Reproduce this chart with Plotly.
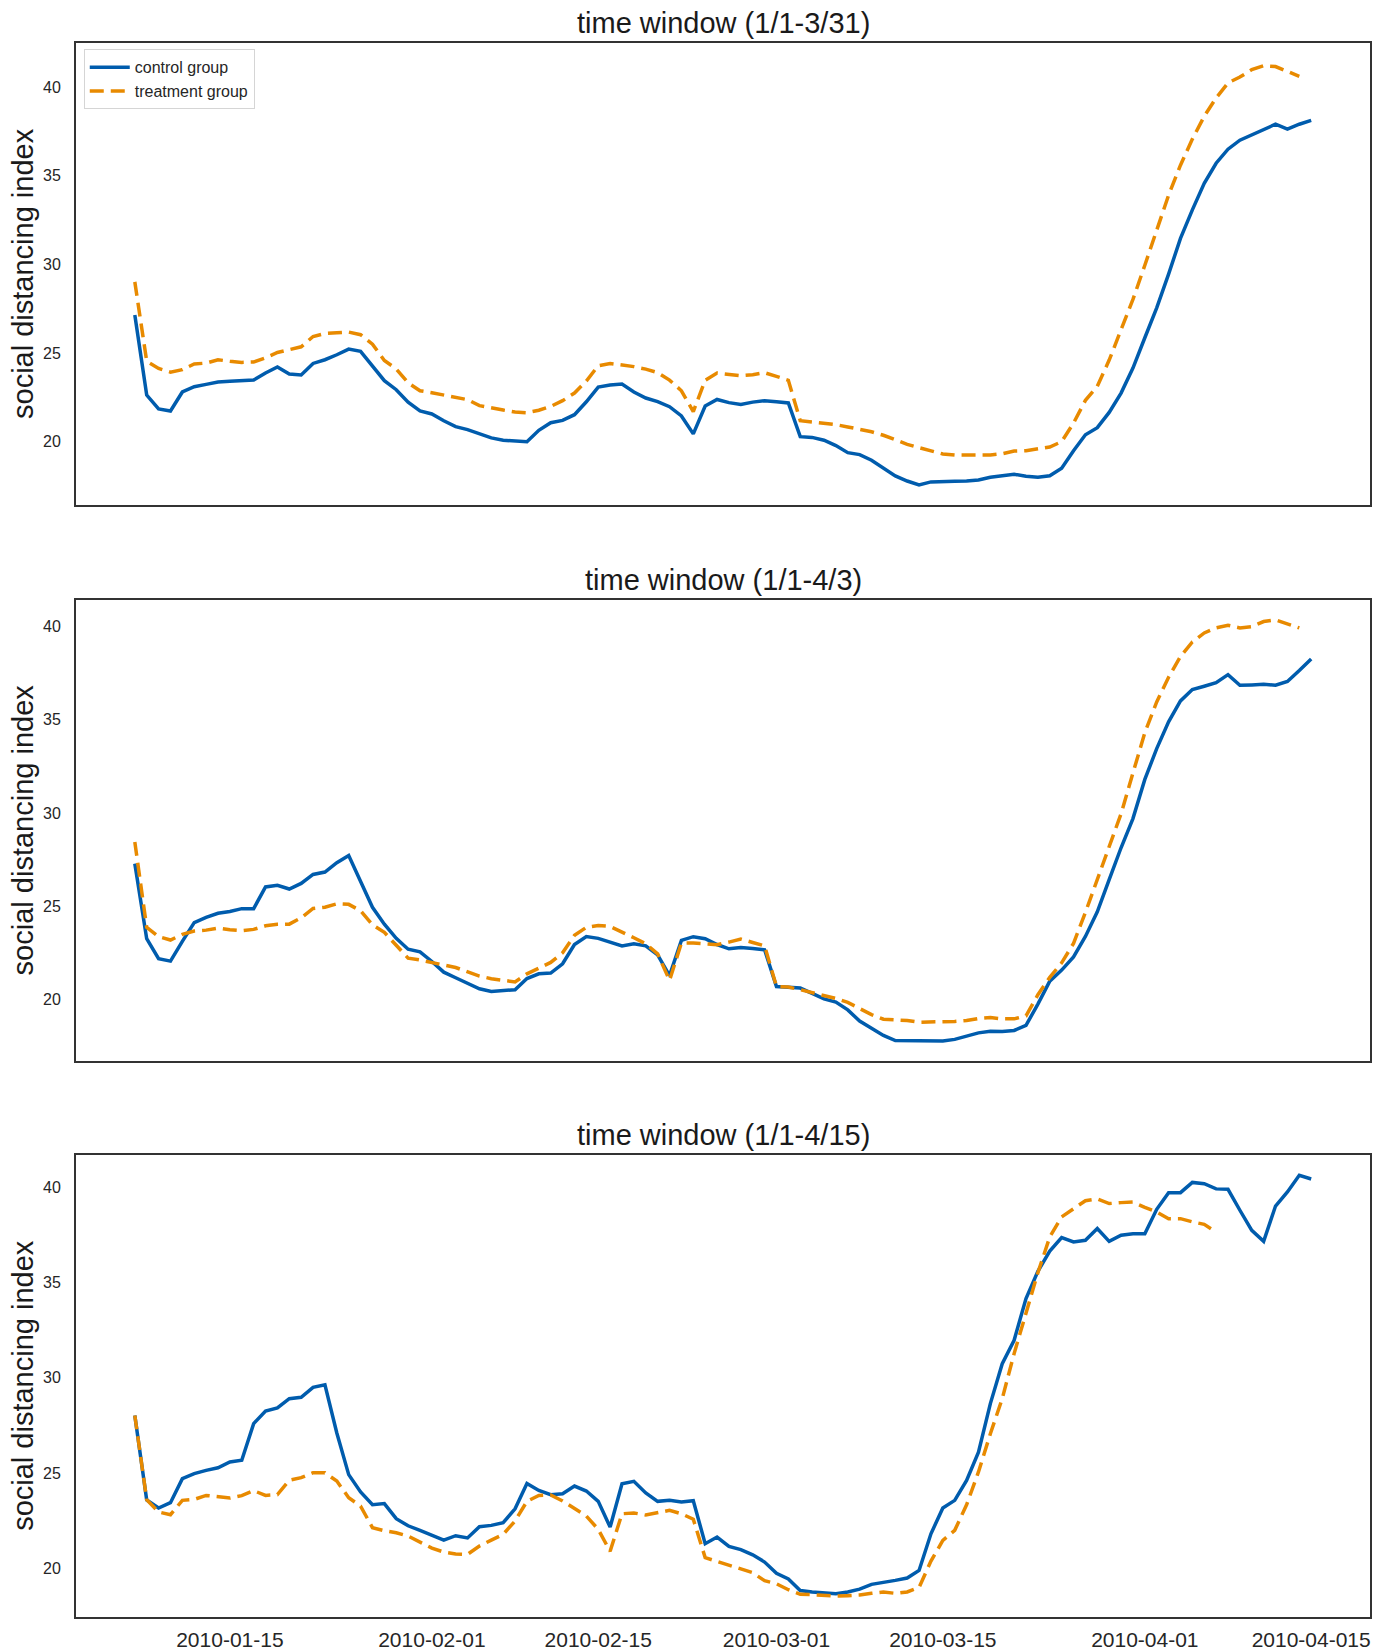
import pandas as pd
import plotly.graph_objects as go

# ---------------- data ----------------
start_date = "2020-01-07"   # daily series (axis labelled 2010-...)

ctrl_1 = [27.14, 22.63, 21.85, 21.73, 22.80, 23.10, 23.23, 23.36, 23.40, 23.42,
          23.47, 23.87, 24.21, 23.81, 23.76, 24.41, 24.62, 24.90, 25.22, 25.09,
          24.23, 23.44, 22.93, 22.23, 21.73, 21.56, 21.18, 20.85, 20.68, 20.43,
          20.21, 20.08, 20.04, 20.00, 20.64, 21.07, 21.20, 21.52, 22.25, 23.08,
          23.19, 23.25, 22.80, 22.46, 22.26, 21.97, 21.45, 20.44, 22.01, 22.38,
          22.20, 22.10, 22.23, 22.31, 22.25, 22.18, 20.28, 20.24, 20.08, 19.78,
          19.38, 19.27, 18.95, 18.50, 18.07, 17.78, 17.56, 17.73, 17.77, 17.77,
          17.78, 17.84, 17.99, 18.07, 18.16, 18.05, 17.99, 18.08, 18.50, 19.49,
          20.39, 20.79, 21.65, 22.74, 24.15, 25.86, 27.55, 29.45, 31.46, 33.07,
          34.57, 35.70, 36.49, 37.00, 37.30, 37.60, 37.90, 37.62, 37.90, 38.12]
treat_1 = [29.01, 24.54, 24.13, 23.92, 24.06, 24.38, 24.43, 24.62, 24.53, 24.47,
           24.49, 24.73, 25.03, 25.18, 25.35, 25.93, 26.10, 26.14, 26.18, 26.03,
           25.50, 24.58, 24.10, 23.32, 22.87, 22.76, 22.63, 22.54, 22.37, 22.03,
           21.88, 21.78, 21.67, 21.63, 21.77, 21.99, 22.31, 22.74, 23.42, 24.28,
           24.41, 24.32, 24.23, 24.09, 23.89, 23.47, 22.87, 21.70, 23.46, 23.87,
           23.80, 23.72, 23.77, 23.89, 23.68, 23.46, 21.18, 21.11, 21.03, 20.96,
           20.83, 20.69, 20.56, 20.36, 20.08, 19.85, 19.66, 19.51, 19.31, 19.25,
           19.25, 19.25, 19.25, 19.32, 19.47, 19.49, 19.57, 19.70, 20.00, 21.05,
           22.33, 23.12, 24.60, 26.25, 28.02, 29.95, 31.92, 33.90, 35.59, 37.06,
           38.35, 39.38, 40.23, 40.56, 40.98, 41.20, 41.15, 40.85, 40.60]

ctrl_2 = [27.29, 23.27, 22.20, 22.07, 23.13, 24.13, 24.41, 24.63, 24.73, 24.88,
          24.88, 26.04, 26.13, 25.93, 26.23, 26.71, 26.84, 27.34, 27.73, 26.34,
          24.95, 24.05, 23.29, 22.71, 22.57, 22.05, 21.48, 21.18, 20.86, 20.59,
          20.45, 20.48, 20.54, 21.14, 21.39, 21.43, 21.93, 22.96, 23.39, 23.29,
          23.09, 22.88, 23.00, 22.89, 22.40, 21.30, 23.18, 23.38, 23.27, 22.96,
          22.73, 22.80, 22.75, 22.68, 20.71, 20.68, 20.63, 20.34, 20.05, 19.88,
          19.46, 18.86, 18.45, 18.09, 17.82, 17.82, 17.82, 17.79, 17.80, 17.88,
          18.05, 18.23, 18.32, 18.30, 18.36, 18.63, 19.77, 21.00, 21.59, 22.30,
          23.39, 24.71, 26.43, 28.14, 29.70, 31.80, 33.45, 34.88, 36.00, 36.61,
          36.79, 36.98, 37.41, 36.84, 36.86, 36.89, 36.84, 37.04, 37.63, 38.25]
treat_2 = [28.45, 23.88, 23.38, 23.20, 23.50, 23.68, 23.73, 23.84, 23.75, 23.70,
           23.77, 23.96, 24.04, 24.05, 24.39, 24.89, 24.96, 25.14, 25.11, 24.77,
           24.02, 23.61, 22.92, 22.23, 22.13, 21.98, 21.86, 21.73, 21.48, 21.27,
           21.13, 21.04, 20.96, 21.39, 21.70, 22.00, 22.52, 23.45, 23.88, 23.98,
           23.93, 23.64, 23.32, 23.00, 22.46, 21.04, 23.04, 23.04, 23.00, 22.95,
           23.09, 23.25, 23.07, 22.89, 20.71, 20.68, 20.54, 20.38, 20.21, 20.07,
           19.86, 19.52, 19.21, 18.96, 18.93, 18.89, 18.80, 18.80, 18.84, 18.84,
           18.89, 19.00, 19.05, 18.98, 18.98, 19.14, 20.27, 21.20, 21.98, 23.02,
           24.68, 26.43, 28.14, 29.96, 32.14, 34.30, 35.95, 37.27, 38.38, 39.16,
           39.64, 39.91, 40.05, 39.91, 39.98, 40.25, 40.34, 40.13, 39.91]

ctrl_3 = [28.03, 23.60, 23.18, 23.46, 24.72, 24.98, 25.15, 25.29, 25.59, 25.68,
          27.60, 28.26, 28.42, 28.91, 28.98, 29.50, 29.64, 27.11, 24.93, 24.02,
          23.35, 23.41, 22.62, 22.25, 22.01, 21.73, 21.50, 21.73, 21.61, 22.20,
          22.27, 22.41, 23.14, 24.47, 24.10, 23.88, 23.93, 24.33, 24.07, 23.53,
          22.18, 24.45, 24.58, 23.97, 23.53, 23.58, 23.49, 23.56, 21.31, 21.66,
          21.17, 21.00, 20.73, 20.35, 19.76, 19.46, 18.86, 18.78, 18.74, 18.69,
          18.78, 18.93, 19.18, 19.27, 19.39, 19.51, 19.91, 21.83, 23.18, 23.58,
          24.63, 26.11, 28.65, 30.74, 31.97, 34.15, 35.58, 36.64, 37.35, 37.12,
          37.21, 37.82, 37.15, 37.47, 37.55, 37.55, 38.83, 39.70, 39.70, 40.24,
          40.17, 39.90, 39.88, 38.78, 37.73, 37.15, 39.00, 39.74, 40.61, 40.42]
treat_3 = [28.03, 23.62, 22.97, 22.83, 23.58, 23.63, 23.84, 23.76, 23.70, 23.83,
           24.09, 23.84, 23.88, 24.63, 24.77, 25.03, 25.03, 24.59, 23.72, 23.28,
           22.15, 21.99, 21.88, 21.71, 21.41, 21.08, 20.87, 20.77, 20.75, 21.19,
           21.50, 21.80, 22.50, 23.53, 23.84, 23.86, 23.55, 23.14, 22.76, 22.06,
           20.91, 22.88, 22.92, 22.81, 22.93, 23.06, 22.88, 22.59, 20.58, 20.38,
           20.17, 19.98, 19.79, 19.37, 19.21, 18.90, 18.66, 18.64, 18.60, 18.57,
           18.59, 18.62, 18.71, 18.78, 18.71, 18.78, 19.02, 20.40, 21.48, 22.01,
           23.35, 25.07, 27.07, 28.91, 31.27, 33.45, 35.51, 37.38, 38.43, 38.86,
           39.28, 39.37, 39.13, 39.18, 39.21, 38.93, 38.69, 38.34, 38.34, 38.17,
           38.04, 37.64]

titles = ["time window (1/1-3/31)", "time window (1/1-4/3)", "time window (1/1-4/15)"]
series_names = ["control group", "treatment group"]
y_label = "social distancing index"
tick_dates = ["2020-01-15", "2020-02-01", "2020-02-15", "2020-03-01",
              "2020-03-15", "2020-04-01", "2020-04-15"]
tick_labels = ["2010-01-15", "2010-02-01", "2010-02-15", "2010-03-01",
               "2010-03-15", "2010-04-01", "2010-04-015"]
y_ticks = [20, 25, 30, 35, 40]

# ---------------- style / layout ----------------
BLUE = "#005cad"
ORANGE = "#e88a00"
FONT = "Liberation Sans, Arial, sans-serif"
x_range = ["2020-01-02 01:12:00", "2020-04-19 22:48:00"]
y_ranges = [[16.43, 42.48], [16.72, 41.42], [17.47, 41.69]]
y_domains = [[0.7065, 1.0], [0.3532, 0.6463], [0.0, 0.2937]]

panels = [(ctrl_1, treat_1), (ctrl_2, treat_2), (ctrl_3, treat_3)]

fig = go.Figure()
for i, (ctrl, treat) in enumerate(panels):
    ax = "" if i == 0 else str(i + 1)
    dates_c = pd.date_range(start_date, periods=len(ctrl), freq="D")
    dates_t = pd.date_range(start_date, periods=len(treat), freq="D")
    fig.add_trace(go.Scatter(x=dates_c, y=ctrl, mode="lines", name=series_names[0],
                             line=dict(color=BLUE, width=3.5),
                             xaxis="x" + ax, yaxis="y" + ax, showlegend=(i == 0)))
    fig.add_trace(go.Scatter(x=dates_t, y=treat, mode="lines", name=series_names[1],
                             line=dict(color=ORANGE, width=3.5, dash="14px,7px"),
                             xaxis="x" + ax, yaxis="y" + ax, showlegend=(i == 0)))

layout = dict(
    width=1388, height=1652,
    margin=dict(l=76, r=18, t=43, b=35, autoexpand=False),
    paper_bgcolor="white", plot_bgcolor="white",
    font=dict(family=FONT, color="#262626"),
    showlegend=True,
    legend=dict(x=0.006, y=0.996, xanchor="left", yanchor="top",
                bgcolor="white", bordercolor="#d5d5d5", borderwidth=1,
                font=dict(size=16, family=FONT, color="#262626"),
                itemwidth=40, tracegroupgap=0),
)
annotations = []
for i in range(3):
    ax = "" if i == 0 else str(i + 1)
    layout["xaxis" + ax] = dict(
        domain=[0, 1], anchor="y" + ax, type="date", range=x_range,
        tickvals=tick_dates, ticktext=tick_labels, showticklabels=(i == 2),
        ticks="outside", ticklen=3, tickcolor="rgba(0,0,0,0)", automargin=False,
        tickfont=dict(size=21, family=FONT, color="#262626"),
        showgrid=False, zeroline=False, showline=True, mirror=True,
        linecolor="#333333", linewidth=2)
    layout["yaxis" + ax] = dict(
        domain=y_domains[i], anchor="x" + ax, range=y_ranges[i],
        tickvals=y_ticks, ticks="outside", ticklen=10, tickcolor="rgba(0,0,0,0)",
        automargin=False,
        tickfont=dict(size=16, family=FONT, color="#262626"),
        showgrid=False, zeroline=False, showline=True, mirror=True,
        linecolor="#333333", linewidth=2)
    annotations.append(dict(text=titles[i], xref="paper", yref="paper",
                            x=0.5, y=y_domains[i][1], xanchor="center", yanchor="bottom",
                            yshift=2, showarrow=False,
                            font=dict(size=29, family=FONT, color="#1a1a1a")))
    annotations.append(dict(text=y_label, xref="paper", yref="paper",
                            x=0, y=(y_domains[i][0] + y_domains[i][1]) / 2,
                            xanchor="center", yanchor="middle", xshift=-53,
                            textangle=-90, showarrow=False,
                            font=dict(size=29, family=FONT, color="#1a1a1a")))
layout["annotations"] = annotations
fig.update_layout(**layout)

fig.write_html("out.html", config={"displayModeBar": False},
               post_script="document.body.style.margin='0';"
                           "document.body.style.overflow='hidden';")
